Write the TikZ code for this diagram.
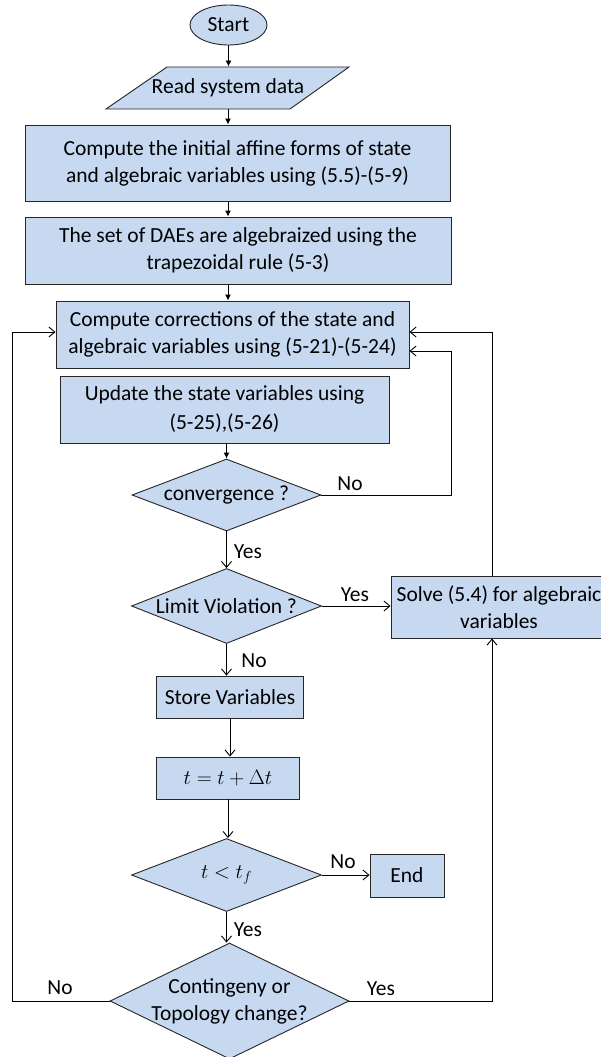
\documentclass[tikz,border=0pt]{standalone}
\usepackage{fontspec}
\setmainfont{Carlito}
\usetikzlibrary{shapes.geometric,arrows.meta}
\definecolor{boxblue}{RGB}{198,217,241}
\begin{document}
\begin{tikzpicture}[x=1pt,y=-1pt,line width=0.9pt,font=\fontsize{21.5}{27}\selectfont,
        blk/.style={draw=black!85,fill=boxblue,align=center,inner sep=0pt},
        dia/.style={blk,diamond},
        lbl/.style={inner sep=0pt,align=center},
        arr/.style={-{Latex[length=6pt,width=6pt]}},
        oarr/.style={-{Straight Barb[length=6pt,width=10pt]}}]
        \useasboundingbox (0,0) rectangle (600,1057);
        \node[blk,ellipse,minimum width=77,minimum height=40] (Start) at (228.5,25) {Start};
        \filldraw[draw=black!85,fill=boxblue] (167,67)--(349,67)--(290,109)--(106,109)--cycle;
        \node[lbl,minimum width=182,minimum height=42] (Read) at (228,88) {Read system data};
        \node[blk,minimum width=425,minimum height=76] (Box1) at (237.5,163) {Compute the initial affine forms of state\\and algebraic variables using (5.5)-(5-9)};
        \node[blk,minimum width=426,minimum height=67] (Box2) at (238,250.5) {The set of DAEs are algebraized using the\\trapezoidal rule (5-3)};
        \node[blk,minimum width=353,minimum height=67] (Box3) at (232.5,334.5) {Compute corrections of the state and\\algebraic variables using (5-21)-(5-24)};
        \node[blk,minimum width=329,minimum height=67,font=\fontsize{21.5}{29}\selectfont] (Box4) at (224.5,409.5) {Update the state variables using\\(5-25),(5-26)};
        \node[dia,aspect=2.62,minimum width=189,minimum height=72] (D1) at (226.5,495) {convergence ?};
        \node[dia,aspect=2.53,minimum width=190,minimum height=75] (D2) at (226.5,606) {Limit Violation ?};
        \node[blk,minimum width=216,minimum height=62] (Solve) at (499,607) {Solve (5.4) for algebraic\\variables};
        \node[blk,minimum width=147,minimum height=42] (Store) at (230,697) {Store Variables};
        \node[blk,minimum width=143,minimum height=42] (Step) at (228,778) {$t=t+\Delta t$};
        \node[dia,aspect=2.6,minimum width=190,minimum height=73] (D3) at (226.5,875) {$t<t_f$};
        \node[blk,minimum width=74,minimum height=43] (End) at (407,875.5) {End};
        \node[dia,aspect=2.06,minimum width=239,minimum height=116] (D4) at (229.5,1001) {};
        \node[lbl] (D4t) at (D4) {Contingeny or\\Topology change?};
        \draw[arr] (Start) -- (Start|-Read.north);
        \draw[arr] (Read.south) -- (Read.south|-Box1.north);
        \draw[arr] (Read.south|-Box1.south) -- (Read.south|-Box2.north);
        \draw[arr] (Read.south|-Box2.south) -- (Read.south|-Box3.north);
        \draw[arr] (D1.north|-Box4.south) -- (D1.north);
        \draw[oarr] (D1.east) -- (451,495) |- ([yshift=-16.5pt]Box3.east);
        \draw[oarr] (D1.south) -- (D2.north);
        \draw[oarr] (D2.east) -- (Solve.west|-D2.east);
        \draw[oarr] (D2.south) -- (D2.south|-Store.north);
        \draw[oarr] (Store.south) -- (Store.south|-Step.north);
        \draw[oarr] (Step.south) -- (Step.south|-D3.north);
        \draw[oarr] (D3.east) -- (End.west|-D3.east);
        \draw[oarr] (D3.south) -- (D3.south|-D4.north);
        \draw[oarr] ([xshift=-7pt]Solve.north) |- ([yshift=2.5pt]Box3.east);
        \draw[oarr] (D4.west) -- (12,1001) |- ([yshift=2.5pt]Box3.west);
        \draw[oarr] (D4.east) -| ([xshift=-7pt]Solve.south);
        \node[lbl] (No1) at (350,484) {No};
        \node[lbl] (Yes1) at (248,552) {Yes};
        \node[lbl] (Yes2) at (355,595) {Yes};
        \node[lbl] (No2) at (254,661) {No};
        \node[lbl] (No3) at (343,862) {No};
        \node[lbl] (Yes3) at (248,930) {Yes};
        \node[lbl] (No4) at (60,988) {No};
        \node[lbl] (Yes4) at (381,989) {Yes};
        \end{tikzpicture}
\end{document}
